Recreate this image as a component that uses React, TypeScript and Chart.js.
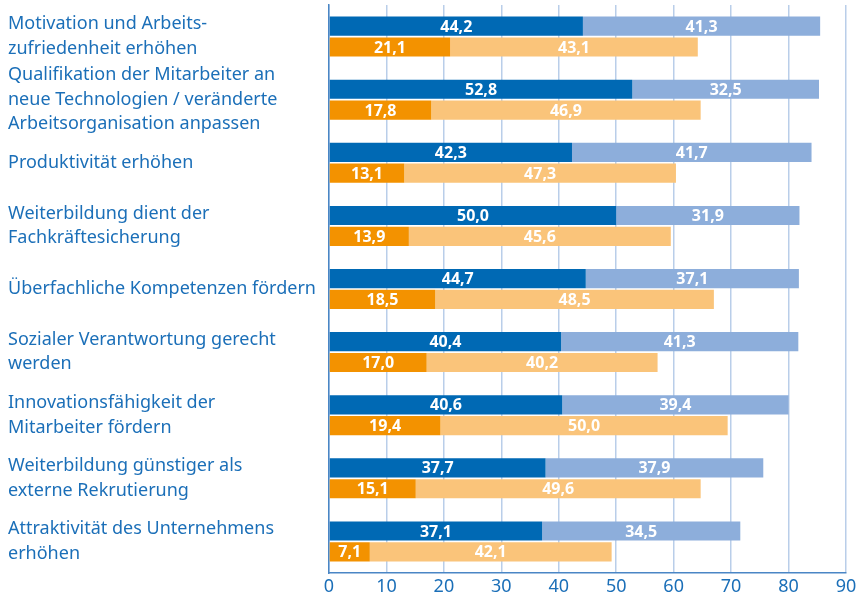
import React, { useEffect, useRef } from "react";
import { Chart, registerables } from "chart.js";

Chart.register(...registerables);

const categories: string[][] = [
  ["Motivation und Arbeits-", "zufriedenheit erhöhen"],
  ["Qualifikation der Mitarbeiter an", "neue Technologien / veränderte", "Arbeitsorganisation anpassen"],
  ["Produktivität erhöhen"],
  ["Weiterbildung dient der", "Fachkräftesicherung"],
  ["Überfachliche Kompetenzen fördern"],
  ["Sozialer Verantwortung gerecht", "werden"],
  ["Innovationsfähigkeit der", "Mitarbeiter fördern"],
  ["Weiterbildung günstiger als", "externe Rekrutierung"],
  ["Attraktivität des Unternehmens", "erhöhen"],
];

const blueDark = [44.2, 52.8, 42.3, 50.0, 44.7, 40.4, 40.6, 37.7, 37.1];
const blueLight = [41.3, 32.5, 41.7, 31.9, 37.1, 41.3, 39.4, 37.9, 34.5];
const orangeDark = [21.1, 17.8, 13.1, 13.9, 18.5, 17.0, 19.4, 15.1, 7.1];
const orangeLight = [43.1, 46.9, 47.3, 45.6, 48.5, 40.2, 50.0, 49.6, 42.1];

const xTicks = [0, 10, 20, 30, 40, 50, 60, 70, 80, 90];

const TEXT_BLUE = "#1b6fb8";
const FONT = "'Noto Sans', sans-serif";

const valueLabels = {
  id: "valueLabels",
  afterDatasetsDraw(chart: any) {
    const ctx = chart.ctx;
    ctx.save();
    ctx.fillStyle = "#ffffff";
    ctx.font = "bold 16px " + FONT;
    ctx.textAlign = "center";
    ctx.textBaseline = "middle";
    chart.data.datasets.forEach((ds: any, i: number) => {
      const meta = chart.getDatasetMeta(i);
      meta.data.forEach((bar: any, j: number) => {
        const v = ds.data[j];
        const { x, base, y } = bar.getProps(["x", "base", "y"], true);
        const cx = (x + base) / 2;
        ctx.fillText(v.toFixed(1).replace(".", ","), cx, y + 1);
      });
    });
    ctx.restore();
  },
};

export default function App() {
  const ref = useRef<HTMLCanvasElement>(null);
  useEffect(() => {
    document.body.style.margin = "0";
    if (!ref.current) return;
    const chart = new Chart(ref.current, {
      type: "bar",
      data: {
        labels: categories,
        datasets: [
          { label: "a", data: blueDark, backgroundColor: "#0069b4", stack: "blue" },
          { label: "b", data: blueLight, backgroundColor: "#8daedb", stack: "blue" },
          { label: "c", data: orangeDark, backgroundColor: "#f39200", stack: "orange" },
          { label: "d", data: orangeLight, backgroundColor: "#fac47a", stack: "orange" },
        ],
      },
      options: {
        indexAxis: "y",
        animation: false,
        responsive: false,
        maintainAspectRatio: false,
        layout: { padding: { left: 8, top: 5, right: 11, bottom: 0 } },
        datasets: {
          bar: { categoryPercentage: 0.66, barPercentage: 0.92, borderWidth: 0 },
        },
        plugins: {
          legend: { display: false },
          tooltip: { enabled: false },
        },
        scales: {
          x: {
            stacked: true,
            min: 0,
            max: 90,
            afterBuildTicks: (scale: any) => {
              scale.ticks = xTicks.map((v) => ({ value: v }));
            },
            afterFit: (scale: any) => {
              scale.paddingLeft = 0;
              scale.paddingRight = 0;
              scale.height = 24;
            },
            grid: { color: "#b9cee9", lineWidth: 1.5, drawTicks: false },
            border: { color: "#4a86c5", width: 1.5 },
            ticks: {
              color: TEXT_BLUE,
              autoSkip: false,
              maxRotation: 0,
              font: { family: FONT, size: 18, lineHeight: 1.1 },
              padding: 4,
            },
          },
          y: {
            stacked: true,
            grid: { display: false, drawTicks: false },
            border: { color: "#4a86c5", width: 1.5 },
            afterFit: (scale: any) => {
              scale.width = 321;
              scale.paddingTop = 0;
              scale.paddingBottom = 0;
            },
            ticks: {
              color: TEXT_BLUE,
              autoSkip: false,
              crossAlign: "far",
              padding: 8,
              font: { family: FONT, size: 18, lineHeight: 1.36 },
            },
          },
        },
      },
      plugins: [valueLabels],
    } as any);
    return () => chart.destroy();
  }, []);
  return (
    <div style={{ width: 857, height: 597, overflow: "hidden" }}>
      <canvas ref={ref} width={857} height={597} style={{ display: "block" }} />
    </div>
  );
}
